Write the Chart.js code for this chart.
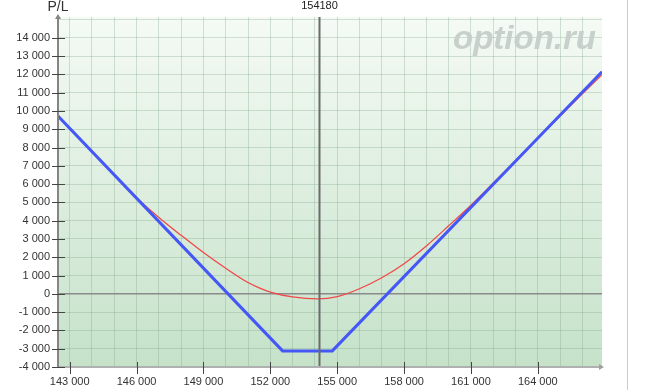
<!DOCTYPE html>
<html>
<head>
<meta charset="utf-8">
<script src="https://cdn.jsdelivr.net/npm/chart.js@4.4.1/dist/chart.umd.min.js"></script>
<style>
    html, body { margin: 0; padding: 0; background: #fff; }
    #wrap { position: relative; width: 646px; height: 390px; }
</style>
</head>
<body>
<div id="wrap"><canvas id="plChart" width="646" height="390"></canvas></div>
<script>
// P/L at expiration (blue) - underlying price and value
const expiryPrices = [142475, 152550, 154780, 166880];
const expiryPL = [9720, -3120, -3120, 12150];

// P/L today (red curve)
const todayPrices = [142475, 144000, 145000, 146000, 147000, 148000, 149000, 150000, 151000, 151500,
    152000, 153000, 154150, 155000, 156000, 157000, 158000, 159000, 160000, 161000,
    162000, 163000, 164000, 165000, 166000, 166880];
const todayPL = [9720, 7780, 6510, 5260, 4180, 3200, 2260, 1400, 620, 330,
    100, -170, -275, -150, 280, 880, 1650, 2620, 3720, 4850,
    6060, 7280, 8500, 9730, 10940, 11990];

// axis labels
const xTickLabels = [143000, 146000, 149000, 152000, 155000, 158000, 161000, 164000];
const yTickLabels = [-4000, -3000, -2000, -1000, 0, 1000, 2000, 3000, 4000, 5000, 6000,
    7000, 8000, 9000, 10000, 11000, 12000, 13000, 14000];
const currentPrice = 154180;

const X_MIN = 142475, X_MAX = 166880;
const Y_MIN = -4000, Y_MAX = 15140;
const FONT = '"Liberation Sans", Arial, sans-serif';

function fmt(v) {
    return String(v).replace(/\B(?=(\d{3})+(?!\d))/g, ' ');
}

function toPoints(xs, ys) {
    return xs.map((x, i) => ({ x: x, y: ys[i] }));
}

// grid every 1000 on both axes
const xGrid = [];
for (let v = 143000; v <= 166000; v += 1000) xGrid.push(v);
const yGrid = [];
for (let v = -4000; v <= 15000; v += 1000) yGrid.push(v);

const gridColor = 'rgba(120,160,130,0.3)';

/**
 * Background gradient, watermark, axes, marker line and labels
 */
const decor = {
    id: 'decor',
    beforeDraw(chart) {
        const { ctx, chartArea: a } = chart;
        const g = ctx.createLinearGradient(0, a.top, 0, a.bottom);
        g.addColorStop(0, '#f5faf5');
        g.addColorStop(1, '#c5e2c9');
        ctx.save();
        ctx.fillStyle = g;
        ctx.fillRect(a.left, a.top, a.right - a.left, a.bottom - a.top);
        ctx.restore();
    },
    beforeDatasetsDraw(chart) {
        const ctx = chart.ctx;
        ctx.save();
        ctx.font = 'italic bold 33px ' + FONT;
        ctx.fillStyle = '#c8d0cb';
        ctx.textAlign = 'right';
        ctx.textBaseline = 'alphabetic';
        ctx.fillText('option.ru', 596, 49);
        ctx.restore();
    },
    afterDraw(chart) {
        const { ctx, chartArea: a } = chart;
        const xs = chart.scales.x, ys = chart.scales.y;
        ctx.save();

        // current price marker
        const px = Math.round(xs.getPixelForValue(currentPrice)) + 0.5;
        ctx.strokeStyle = '#6b6b6b';
        ctx.lineWidth = 2;
        ctx.beginPath();
        ctx.moveTo(px, a.top);
        ctx.lineTo(px, a.bottom);
        ctx.stroke();
        ctx.fillStyle = '#222';
        ctx.font = '11px ' + FONT;
        ctx.textAlign = 'center';
        ctx.textBaseline = 'middle';
        ctx.fillText(String(currentPrice), px, 6);

        // axis title
        ctx.font = '14px ' + FONT;
        ctx.fillStyle = '#333';
        ctx.fillText('P/L', a.left, 7);

        // x axis line + arrow
        ctx.strokeStyle = '#b0b0b0';
        ctx.lineWidth = 2;
        ctx.beginPath();
        ctx.moveTo(a.left, a.bottom);
        ctx.lineTo(a.right, a.bottom);
        ctx.stroke();
        ctx.fillStyle = '#a0a0a0';
        ctx.beginPath();
        ctx.moveTo(a.right + 2, a.bottom);
        ctx.lineTo(a.right - 3, a.bottom - 3);
        ctx.lineTo(a.right - 3, a.bottom + 3);
        ctx.closePath();
        ctx.fill();

        // y axis line + arrow
        ctx.strokeStyle = '#858585';
        ctx.beginPath();
        ctx.moveTo(a.left, a.top - 1);
        ctx.lineTo(a.left, a.bottom + 1);
        ctx.stroke();
        ctx.fillStyle = '#858585';
        ctx.beginPath();
        ctx.moveTo(a.left, a.top - 3);
        ctx.lineTo(a.left - 3, a.top + 2);
        ctx.lineTo(a.left + 3, a.top + 2);
        ctx.closePath();
        ctx.fill();

        // tick marks
        ctx.strokeStyle = '#444';
        ctx.lineWidth = 1;
        ctx.beginPath();
        yTickLabels.forEach(v => {
            const y = Math.round(ys.getPixelForValue(v)) + 0.5;
            ctx.moveTo(52, y);
            ctx.lineTo(65, y);
        });
        xTickLabels.forEach(v => {
            const x = Math.round(xs.getPixelForValue(v)) + 0.5;
            ctx.moveTo(x, a.bottom - 5);
            ctx.lineTo(x, a.bottom + 7);
        });
        ctx.stroke();

        // outer frame line on the right
        ctx.strokeStyle = '#cccccc';
        ctx.beginPath();
        ctx.moveTo(627.5, 0);
        ctx.lineTo(627.5, 390);
        ctx.stroke();
        ctx.restore();
    }
};

const ctx = document.getElementById('plChart').getContext('2d');
new Chart(ctx, {
    type: 'line',
    data: {
        datasets: [{
            label: 'Expiration',
            data: toPoints(expiryPrices, expiryPL),
            borderColor: '#4558f5',
            borderWidth: 3,
            pointRadius: 0,
            tension: 0
        }, {
            label: 'Today',
            data: toPoints(todayPrices, todayPL),
            borderColor: '#f04848',
            borderWidth: 1.3,
            pointRadius: 0,
            cubicInterpolationMode: 'monotone'
        }]
    },
    options: {
        responsive: false,
        animation: false,
        layout: { padding: { top: 17, right: 44, left: 0, bottom: 0 } },
        plugins: {
            legend: { display: false },
            tooltip: { enabled: false }
        },
        scales: {
            x: {
                type: 'linear',
                min: X_MIN,
                max: X_MAX,
                afterBuildTicks: s => { s.ticks = xGrid.map(v => ({ value: v })); },
                afterFit: s => { s.height = 23; },
                border: { display: false },
                grid: { color: gridColor, drawTicks: false },
                ticks: {
                    autoSkip: false,
                    maxRotation: 0,
                    padding: 8,
                    color: '#333',
                    font: { family: FONT, size: 11 },
                    callback: v => xTickLabels.includes(v) ? fmt(v) : ''
                }
            },
            y: {
                min: Y_MIN,
                max: Y_MAX,
                afterBuildTicks: s => { s.ticks = yGrid.map(v => ({ value: v })); },
                afterFit: s => { s.width = 58; },
                border: { display: false },
                grid: {
                    drawTicks: false,
                    color: c => (c.tick && c.tick.value === 0) ? '#8a8a8a' : gridColor,
                    lineWidth: c => (c.tick && c.tick.value === 0) ? 1.5 : 1
                },
                ticks: {
                    autoSkip: false,
                    padding: 8,
                    color: '#333',
                    font: { family: FONT, size: 11 },
                    callback: v => yTickLabels.includes(v) ? fmt(v) : ''
                }
            }
        }
    },
    plugins: [decor]
});
</script>
</body>
</html>
